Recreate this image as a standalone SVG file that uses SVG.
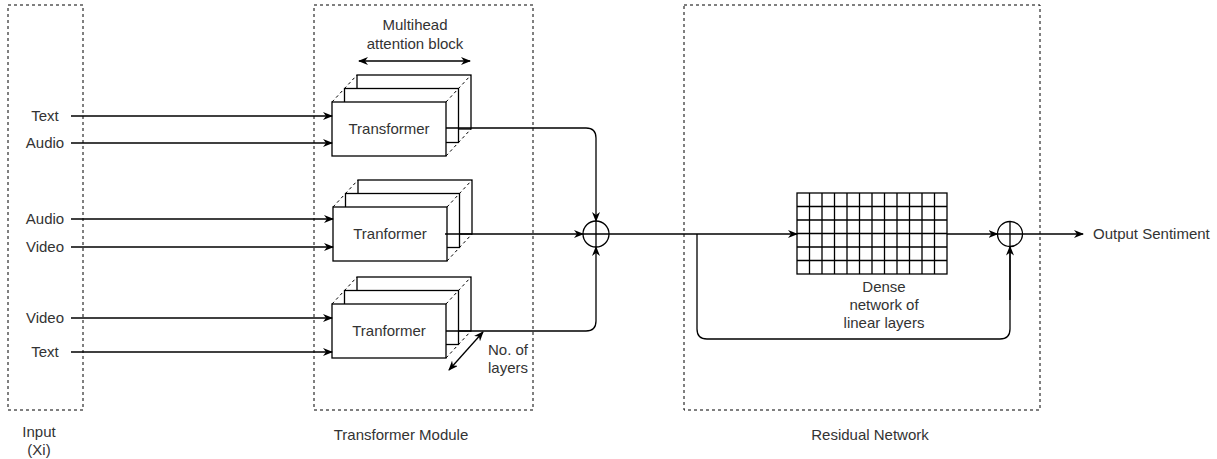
<svg xmlns="http://www.w3.org/2000/svg" width="1217" height="459" viewBox="0 0 1217 459">
<style>
.grp{fill:none;stroke:#000;stroke-width:1;stroke-dasharray:3 3}
.t{font-family:"Liberation Sans",Arial,sans-serif;font-size:15px;fill:#333;text-anchor:middle}
.box{fill:#fff;stroke:#000;stroke-width:1.3}
.dd{fill:none;stroke:#000;stroke-width:1;stroke-dasharray:3 3}
.ln{fill:none;stroke:#000;stroke-width:1.3}
.ar{fill:none;stroke:#000;stroke-width:1.3;marker-end:url(#ah)}
.ar2{fill:none;stroke:#000;stroke-width:1.3;marker-end:url(#ah);marker-start:url(#ahs)}
.gr{fill:#fff;stroke:#000;stroke-width:1.3}
</style>
<defs>
<marker id="ah" viewBox="0 0 10 8" refX="9" refY="4" markerWidth="10" markerHeight="8" markerUnits="userSpaceOnUse" orient="auto">
<path d="M0,0 L10,4 L0,8 L3,4 z" fill="#000"/>
</marker>
<marker id="ahs" viewBox="0 0 10 8" refX="1" refY="4" markerWidth="10" markerHeight="8" markerUnits="userSpaceOnUse" orient="auto">
<path d="M10,0 L0,4 L10,8 L7,4 z" fill="#000"/>
</marker>
</defs>
<rect width="1217" height="459" fill="#fff"/>

<g id="input-group">
<rect class="grp" x="8" y="5" width="75" height="405"/>
<text class="t" x="39" y="437">Input</text>
<text class="t" x="39" y="455">(Xi)</text>
<text class="t" x="45" y="121">Text</text>
<text class="t" x="45" y="148">Audio</text>
<text class="t" x="45" y="224">Audio</text>
<text class="t" x="45" y="252">Video</text>
<text class="t" x="45" y="323">Video</text>
<text class="t" x="45" y="357">Text</text>
</g>

<g id="transformer-module">
<rect class="grp" x="314" y="5" width="219" height="405"/>
<text class="t" x="401" y="440">Transformer Module</text>
<text class="t" x="415" y="30">Multihead</text>
<text class="t" x="415" y="49">attention block</text>
<text class="t" x="508" y="355">No. of</text>
<text class="t" x="508" y="373">layers</text>
</g>

<g id="transformer-1">
<rect class="box" x="357" y="75" width="114" height="54"/>
<rect class="box" x="344.5" y="88.5" width="114" height="54"/>
<rect class="box" x="332" y="102" width="114" height="54"/>
<path class="dd" d="M332,102 L357,75 M446,102 L471,75 M446,156 L471,129"/>
<text class="t" x="389" y="134">Transformer</text>
</g>

<g id="transformer-2">
<rect class="box" x="358" y="180" width="114" height="54"/>
<rect class="box" x="345.5" y="193.5" width="114" height="54"/>
<rect class="box" x="333" y="207" width="114" height="54"/>
<path class="dd" d="M333,207 L358,180 M447,207 L472,180 M447,261 L472,234"/>
<text class="t" x="390" y="239">Tranformer</text>
</g>

<g id="transformer-3">
<rect class="box" x="357" y="277" width="114" height="54"/>
<rect class="box" x="344.5" y="290.5" width="114" height="54"/>
<rect class="box" x="332" y="304" width="114" height="54"/>
<path class="dd" d="M332,304 L357,277 M446,304 L471,277 M446,358 L471,331"/>
<text class="t" x="389" y="336">Tranformer</text>
</g>

<g id="residual-network">
<rect class="grp" x="684" y="5" width="356" height="405"/>
<text class="t" x="870" y="440">Residual Network</text>
</g>

<g id="dense-grid">
<rect class="gr" x="797" y="193" width="150" height="81"/>
<path class="ln" d="M809.5,193V274M822,193V274M834.5,193V274M847,193V274M859.5,193V274M872,193V274M884.5,193V274M897,193V274M909.5,193V274M922,193V274M934.5,193V274M797,206.5H947M797,220H947M797,233.5H947M797,247H947M797,260.5H947"/>
<text class="t" x="884" y="292">Dense</text>
<text class="t" x="884" y="310">network of</text>
<text class="t" x="884" y="328">linear layers</text>
</g>

<g id="sum-1">
<circle cx="596" cy="234" r="13" fill="#fff" stroke="#000" stroke-width="1.3"/>
<path class="ln" d="M583,234H609M596,221V247"/>
</g>

<g id="sum-2">
<circle cx="1010" cy="234" r="12.5" fill="#fff" stroke="#000" stroke-width="1.3"/>
<path class="ln" d="M997.5,234H1022.5M1010,221.5V246.5"/>
</g>

<g id="output-label">
<text class="t" x="1093" y="239" style="text-anchor:start">Output Sentiment</text>
</g>

<g id="connectors">
<path class="ar" d="M71,116H332"/>
<path class="ar" d="M71,143H332"/>
<path class="ar" d="M71,219H333"/>
<path class="ar" d="M71,247H333"/>
<path class="ar" d="M71,318H332"/>
<path class="ar" d="M71,352H332"/>
<path class="ar2" d="M359,61H470"/>
<path class="ar2" d="M449,370L483,332"/>
<path class="ar" d="M446,128H586Q596,128 596,138V221"/>
<path class="ar" d="M445,234H583"/>
<path class="ar" d="M446,331H586Q596,331 596,321V247"/>
<path class="ar" d="M609,234H797"/>
<path class="ln" d="M697,234V329Q697,339 707,339H1000Q1010,339 1010,329V246.5"/>
<path class="ar" d="M1009.99,300V246.5"/>
<path class="ar" d="M947,234H997.5"/>
<path class="ar" d="M1022.5,234H1083"/>
</g>
</svg>
